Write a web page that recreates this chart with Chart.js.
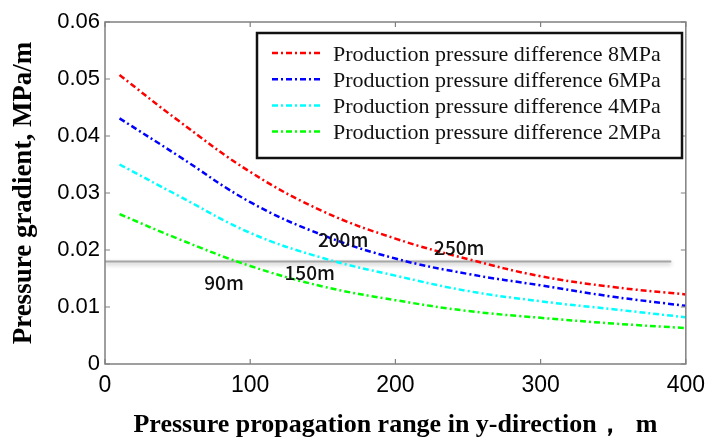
<!DOCTYPE html>
<html>
<head>
<meta charset="utf-8">
<script src="https://cdn.jsdelivr.net/npm/chart.js@4.4.0/dist/chart.umd.min.js"></script>
<style>
  body { margin: 0; background: #fff; }
  #wrap { width: 713px; height: 447px; }
</style>
</head>
<body>
<div id="wrap"><canvas id="lineChart"></canvas></div>
<script>
// distance in y-direction (m)
const xValues = [10, 50, 100, 150, 200, 250, 300, 350, 400];

// pressure gradient (MPa/m) for each production pressure difference
const grad8 = [0.0507, 0.0428, 0.0337, 0.0268, 0.0220, 0.0184, 0.0154, 0.0135, 0.0122];
const grad6 = [0.0431, 0.0366, 0.0284, 0.0226, 0.0185, 0.0158, 0.0138, 0.0118, 0.0102];
const grad4 = [0.0350, 0.0296, 0.0230, 0.0186, 0.0155, 0.0128, 0.0110, 0.0096, 0.0082];
const grad2 = [0.0263, 0.0220, 0.0172, 0.0136, 0.0112, 0.0093, 0.0081, 0.0071, 0.0063];

const seriesLabels = [
    "Production pressure difference 8MPa",
    "Production pressure difference 6MPa",
    "Production pressure difference 4MPa",
    "Production pressure difference 2MPa"
];

const xTickLabels = ["0", "100", "200", "300", "400"];
const yTickLabels = ["0", "0.01", "0.02", "0.03", "0.04", "0.05", "0.06"];

// start-up gradient line
const thresholdX = [0, 390];
const thresholdY = [0.018, 0.018];

// range notes where curves cross the line
const noteText = ["90m", "150m", "200m", "250m"];
const noteX = [82, 141, 164, 244];
const noteY = [0.0142, 0.0160, 0.0218, 0.0204];

const dashDot = [6, 3, 2, 3];

function toPoints(xs, ys) {
    return xs.map((x, i) => ({ x: x, y: ys[i] }));
}

const curves = [grad8, grad6, grad4, grad2];
const colors = ["#ff0000", "#0000ff", "#00ffff", "#00ff00"];

const datasets = curves.map((ys, i) => ({
    label: seriesLabels[i],
    data: toPoints(xValues, ys),
    borderColor: colors[i],
    borderWidth: 2.5,
    borderDash: dashDot,
    pointRadius: 0,
    tension: 0.4,
    fill: false,
    order: 1
}));

datasets.push({
    label: "threshold",
    data: toPoints(thresholdX, thresholdY),
    borderColor: "#a6a6a6",
    borderWidth: 2,
    pointRadius: 0,
    fill: false,
    order: 5,
    inLegend: false,
    shadow: true
});

// soft shadow under the gray line
const shadowPlugin = {
    id: "lineShadow",
    beforeDatasetDraw(chart, args) {
        if (!args.meta._dataset.shadow) return;
        const c = chart.ctx;
        c.save();
        c.shadowColor = "rgba(0,0,0,0.3)";
        c.shadowBlur = 4;
        c.shadowOffsetY = 2;
    },
    afterDatasetDraw(chart, args) {
        if (!args.meta._dataset.shadow) return;
        chart.ctx.restore();
    }
};

// frame + inward ticks
const framePlugin = {
    id: "frame",
    afterDraw(chart) {
        const { ctx, chartArea: a, scales } = chart;
        ctx.save();
        ctx.strokeStyle = "#808080";
        ctx.lineWidth = 1.5;
        ctx.strokeRect(a.left, a.top, a.right - a.left, a.bottom - a.top);
        ctx.lineWidth = 1.2;
        ctx.beginPath();
        scales.x.ticks.forEach(t => {
            const px = scales.x.getPixelForValue(t.value);
            ctx.moveTo(px, a.bottom); ctx.lineTo(px, a.bottom - 5);
            ctx.moveTo(px, a.top); ctx.lineTo(px, a.top + 5);
        });
        scales.y.ticks.forEach(t => {
            const py = scales.y.getPixelForValue(t.value);
            ctx.moveTo(a.left, py); ctx.lineTo(a.left + 5, py);
            ctx.moveTo(a.right, py); ctx.lineTo(a.right - 5, py);
        });
        ctx.stroke();
        ctx.restore();
    }
};

// crossing notes
const notesPlugin = {
    id: "notes",
    afterDatasetsDraw(chart) {
        const { ctx, scales } = chart;
        ctx.save();
        ctx.fillStyle = "#111";
        ctx.font = "500 19px 'Noto Sans CJK JP'";
        ctx.textAlign = "center";
        ctx.textBaseline = "middle";
        noteText.forEach((txt, i) => {
            ctx.fillText(txt, scales.x.getPixelForValue(noteX[i]), scales.y.getPixelForValue(noteY[i]));
        });
        ctx.restore();
    }
};

// boxed legend inside the plot
const boxLegendPlugin = {
    id: "boxLegend",
    afterDraw(chart) {
        const { ctx, chartArea: a } = chart;
        const left = a.left + 152, top = a.top + 11;
        const w = 425, h = 125, rowH = 26.2;
        ctx.save();
        ctx.fillStyle = "#fff";
        ctx.fillRect(left, top, w, h);
        ctx.strokeStyle = "#111";
        ctx.lineWidth = 2.5;
        ctx.strokeRect(left, top, w, h);
        ctx.font = "22px 'Liberation Serif'";
        ctx.textBaseline = "middle";
        ctx.textAlign = "left";
        chart.data.datasets.filter(d => d.inLegend !== false).forEach((d, i) => {
            const y = top + 20 + i * rowH;
            ctx.strokeStyle = d.borderColor;
            ctx.lineWidth = 2.5;
            ctx.setLineDash(d.borderDash || []);
            ctx.beginPath();
            ctx.moveTo(left + 15, y);
            ctx.lineTo(left + 64, y);
            ctx.stroke();
            ctx.setLineDash([]);
            ctx.fillStyle = "#111";
            ctx.fillText(d.label, left + 76, y + 2);
        });
        ctx.restore();
    }
};

const ctx = document.getElementById("lineChart").getContext("2d");

new Chart(ctx, {
    type: "line",
    data: { datasets: datasets },
    options: {
        responsive: true,
        maintainAspectRatio: false,
        animation: false,
        layout: { padding: { left: 5, top: 22, right: 22, bottom: 6 } },
        plugins: {
            legend: { display: false },
            tooltip: { enabled: false }
        },
        scales: {
            x: {
                type: "linear",
                min: 0,
                max: 400,
                afterFit: s => { s.height = 77; },
                grid: { display: false, drawTicks: false },
                border: { display: false },
                ticks: {
                    stepSize: 100,
                    padding: 8,
                    color: "#000",
                    font: { family: "'Liberation Sans'", size: 23 },
                    callback: (v, i) => xTickLabels[i]
                },
                title: {
                    display: true,
                    text: "Pressure propagation range in y-direction，  m",
                    color: "#000",
                    font: { family: "'Liberation Serif'", size: 26, weight: "bold" },
                    padding: { top: 0, bottom: 0 }
                }
            },
            y: {
                min: 0,
                max: 0.06,
                afterFit: s => { s.width = 100; },
                grid: { display: false, drawTicks: false },
                border: { display: false },
                ticks: {
                    stepSize: 0.01,
                    padding: 5,
                    color: "#000",
                    font: { family: "'Liberation Sans'", size: 22 },
                    callback: (v, i) => yTickLabels[i]
                },
                title: {
                    display: true,
                    text: "Pressure gradient, MPa/m",
                    color: "#000",
                    font: { family: "'Liberation Serif'", size: 27, weight: "bold" },
                    padding: { top: 3, bottom: 0 }
                }
            }
        }
    },
    plugins: [shadowPlugin, framePlugin, notesPlugin, boxLegendPlugin]
});
</script>
</body>
</html>
